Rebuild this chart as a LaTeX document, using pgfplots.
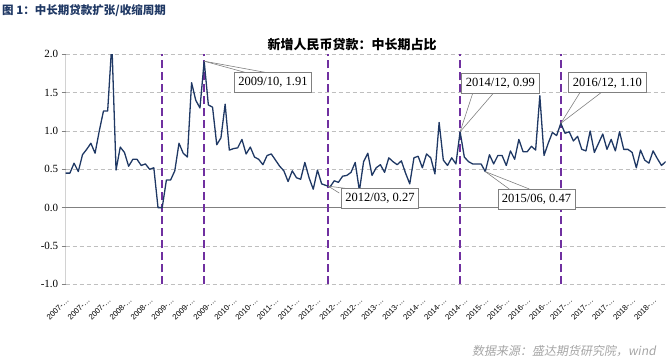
\documentclass[border=0pt]{standalone}
\usepackage{fontspec}
\setmainfont{Liberation Serif}
\newfontfamily\cjk{Noto Sans CJK SC}
\newfontfamily\cjksl[FakeSlant=0.18]{Noto Sans CJK SC}
\newfontfamily\lsans{Liberation Sans}
\usepackage{pgfplots}
\pgfplotsset{compat=1.18}
\definecolor{navy}{RGB}{31,56,100}
\definecolor{vpurple}{RGB}{112,48,160}
\definecolor{gridgray}{RGB}{191,191,191}
\definecolor{axgray}{RGB}{128,128,128}
\definecolor{titleblue}{RGB}{31,56,100}
\definecolor{srcgray}{RGB}{165,165,165}
\pgfplotstableread{
k v
0 0.45
1 0.45
2 0.58
3 0.47
4 0.69
5 0.76
6 0.84
7 0.71
8 1.00
9 1.26
10 1.26
11 2.15
12 0.49
13 0.79
14 0.72
15 0.54
16 0.63
17 0.63
18 0.55
19 0.57
20 0.50
21 0.52
22 0.00
23 0.00
24 0.36
25 0.36
26 0.48
27 0.84
28 0.71
29 0.66
30 1.63
31 1.40
32 1.30
33 1.91
34 1.34
35 1.31
36 0.82
37 0.91
38 1.35
39 0.75
40 0.77
41 0.78
42 0.89
43 0.70
44 0.79
45 0.66
46 0.63
47 0.56
48 0.68
49 0.70
50 0.62
51 0.54
52 0.48
53 0.34
54 0.48
55 0.39
56 0.37
57 0.59
58 0.39
59 0.24
60 0.49
61 0.31
62 0.29
63 0.27
64 0.35
65 0.33
66 0.41
67 0.42
68 0.46
69 0.59
70 0.22
71 0.60
72 0.71
73 0.42
74 0.52
75 0.56
76 0.46
77 0.65
78 0.60
79 0.56
80 0.61
81 0.45
82 0.31
83 0.65
84 0.67
85 0.52
86 0.70
87 0.65
88 0.44
89 1.11
90 0.62
91 0.55
92 0.65
93 0.57
94 0.99
95 0.66
96 0.60
97 0.57
98 0.57
99 0.57
100 0.47
101 0.69
102 0.57
103 0.68
104 0.68
105 0.55
106 0.74
107 0.63
108 0.89
109 0.73
110 0.73
111 0.80
112 0.75
113 1.46
114 0.68
115 0.84
116 0.98
117 0.94
118 1.10
119 0.97
120 0.99
121 0.87
122 0.93
123 0.76
124 0.74
125 1.00
126 0.72
127 0.84
128 0.96
129 0.76
130 0.89
131 0.74
132 0.99
133 0.76
134 0.76
135 0.72
136 0.52
137 0.75
138 0.62
139 0.58
140 0.74
141 0.64
142 0.55
143 0.60
}\mydata
\begin{document}
\begin{tikzpicture}
\useasboundingbox (0pt,0pt) rectangle (667pt,361pt);
\begin{axis}[
  at={(65.7pt,76.7pt)}, anchor=south west,
  scale only axis, width=600pt, height=230pt,
  xmin=0, xmax=143, ymin=-1, ymax=2,
  axis line style={draw=none},
  ytick={-1,-0.5,...,2},
  /pgf/number format/.cd, fixed, fixed zerofill, precision=1, assume math mode=true, /pgfplots/.cd,
  yticklabel style={font=\fontsize{11}{11}\selectfont, text=black},
  ymajorgrids,
  grid style={gridgray, dash pattern=on 4pt off 3pt, line width=0.8pt},
  ytick pos=left, tick align=outside, major tick length=4pt,
  ytick style={axgray, line width=0.8pt},
  xtick={0,5,...,140},
  xticklabels={2007-…,2007-…,2007-…,2008-…,2008-…,2009-…,2009-…,2009-…,2010-…,2010-…,2011-…,2011-…,2012-…,2012-…,2012-…,2013-…,2013-…,2014-…,2014-…,2014-…,2015-…,2015-…,2016-…,2016-…,2017-…,2017-…,2017-…,2018-…,2018-…},
  xtick style={draw=none},
  xticklabel pos=bottom,
  xticklabel style={yshift=-11pt, xshift=2pt, rotate=45, anchor=east, inner sep=0pt, font=\lsans\fontsize{7.8}{8}\selectfont},
]
\draw[axgray, line width=0.9pt] (axis cs:0,0) -- (axis cs:143,0);
\draw[axgray, line width=0.9pt] (axis cs:0,-1) -- (axis cs:0,2);
\foreach \xv in {23,33,62.45,94,118}{
  \edef\tmp{\noexpand\draw[vpurple, line width=1.7pt, dash pattern=on 8pt off 4pt] (axis cs:\xv,-1) -- (axis cs:\xv,2);}
  \tmp
}
\addplot[navy, line width=1.3pt, line join=round, no marks] table[x=k, y=v] {\mydata};
% callouts
\draw[axgray, line width=0.6pt] (axis cs:33,1.91) -- (axis cs:42.7,1.765);
\draw[axgray, line width=0.6pt] (axis cs:33,1.91) -- (axis cs:47.5,1.765);
\node[draw=axgray, fill=white, line width=0.8pt, font=\fontsize{12.5}{13}\selectfont, inner xsep=4pt, minimum height=20pt] at (axis cs:49.4,1.634) {2009/10, 1.91};
\draw[axgray, line width=0.6pt] (axis cs:62.6,0.28) -- (axis cs:65.2,0.19);
\draw[axgray, line width=0.6pt] (axis cs:62.6,0.28) -- (axis cs:68.3,0.24);
\node[draw=axgray, fill=white, line width=0.8pt, font=\fontsize{12.5}{13}\selectfont, inner xsep=4pt, minimum height=20pt] at (axis cs:74.9,0.117) {2012/03, 0.27};
\draw[axgray, line width=0.6pt] (axis cs:94,0.99) -- (axis cs:97.0,1.491);
\draw[axgray, line width=0.6pt] (axis cs:94,0.99) -- (axis cs:101.9,1.491);
\node[draw=axgray, fill=white, line width=0.8pt, font=\fontsize{12.5}{13}\selectfont, inner xsep=4pt, minimum height=20pt] at (axis cs:103.6,1.616) {2014/12, 0.99};
\draw[axgray, line width=0.6pt] (axis cs:100,0.47) -- (axis cs:105.7,0.243);
\draw[axgray, line width=0.6pt] (axis cs:100,0.47) -- (axis cs:110.5,0.243);
\node[draw=axgray, fill=white, line width=0.8pt, font=\fontsize{12.5}{13}\selectfont, inner xsep=4pt, minimum height=20pt] at (axis cs:112.2,0.112) {2015/06, 0.47};
\draw[axgray, line width=0.6pt] (axis cs:118,1.10) -- (axis cs:122.6,1.504);
\draw[axgray, line width=0.6pt] (axis cs:118,1.10) -- (axis cs:127.7,1.504);
\node[draw=axgray, fill=white, line width=0.8pt, font=\fontsize{12.5}{13}\selectfont, inner xsep=4pt, minimum height=20pt] at (axis cs:129.1,1.628) {2016/12, 1.10};
\end{axis}
\node[anchor=west, text=titleblue, font=\cjk\bfseries\fontsize{11.5}{12}\selectfont, inner sep=0pt] at (2pt,350pt) {图 1：中长期贷款扩张/收缩周期};
\node[text=black, font=\cjk\bfseries\fontsize{13}{14}\selectfont, inner sep=0pt] at (352pt,316.5pt) {新增人民币贷款：中长期占比};
\node[anchor=east, text=srcgray, font=\cjksl\fontsize{12}{13}\selectfont, inner sep=0pt] at (656pt,10pt) {数据来源：盛达期货研究院，wind};
\end{tikzpicture}
\end{document}
